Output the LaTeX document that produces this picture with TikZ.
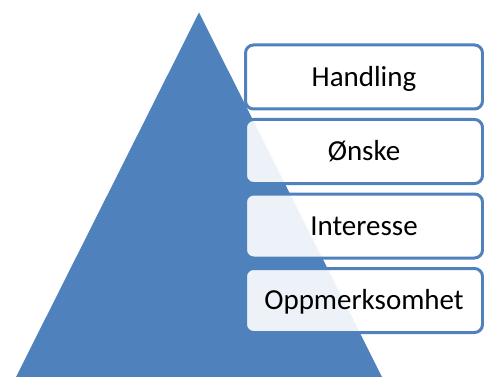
\documentclass[tikz,border=0pt]{standalone}
\usepackage{fontspec}
\setmainfont{Carlito}
\definecolor{pyrblue}{HTML}{4F81BD}
\tikzset{
  stagebox/.style={draw=pyrblue, line width=3pt, rounded corners=8pt,
    fill=white, fill opacity=0.9, text opacity=1,
    minimum width=237pt, minimum height=64pt,
    text height=18.5pt, text depth=0pt, inner sep=0pt,
    font=\fontsize{29pt}{33pt}\selectfont, text=black},
  pyramid/.style={fill=pyrblue, draw=none}
}
\begin{document}
\begin{tikzpicture}[x=1pt,y=-1pt]
\useasboundingbox (0,0) rectangle (484,377);
\fill[pyramid] (199,12.5) -- (382,377) -- (16,377) -- cycle;
\node[stagebox] (handling) at (364,77) {Handling};
\node[stagebox] (onske) at (364,151.5) {Ønske};
\node[stagebox] (interesse) at (364,226) {Interesse};
\node[stagebox] (oppmerksomhet) at (364,300.5) {Oppmerksomhet};
\end{tikzpicture}
\end{document}
